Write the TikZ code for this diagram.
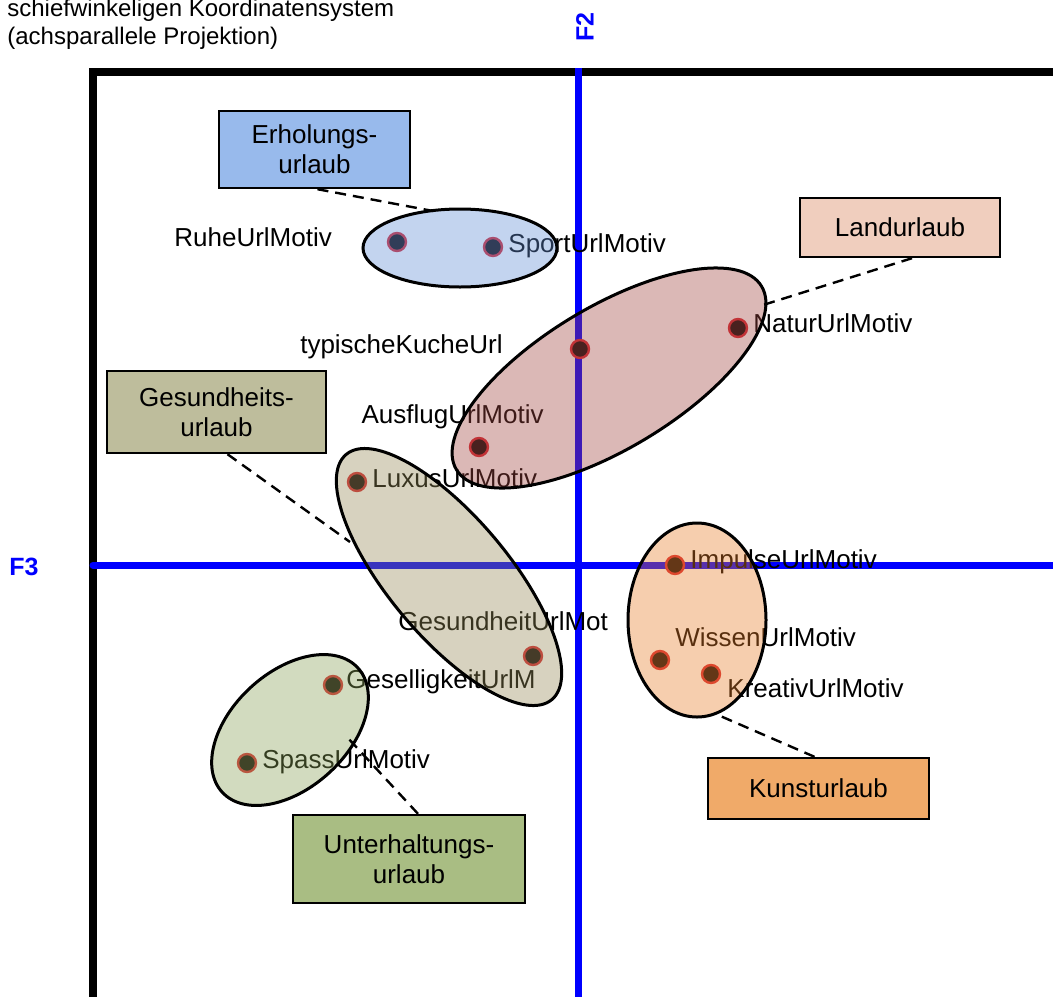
\documentclass[tikz,border=0pt]{standalone}
\usepackage{fontspec}
\setmainfont{Liberation Sans}
\usetikzlibrary{shapes.geometric}
\definecolor{axisblue}{RGB}{0,0,255}
\definecolor{dotcore}{RGB}{20,12,12}
\definecolor{dotrim}{RGB}{215,40,50}
\definecolor{eBlueC}{RGB}{98,141,212}
\definecolor{eRedC}{RGB}{161,69,64}
\definecolor{eKhakiC}{RGB}{149,138,86}
\definecolor{eGreenC}{RGB}{138,161,86}
\definecolor{eOrangeC}{RGB}{232,126,41}
\definecolor{bErhC}{RGB}{152,186,236}
\definecolor{bLandC}{RGB}{240,206,190}
\definecolor{bGesC}{RGB}{190,189,156}
\definecolor{bKunC}{RGB}{240,170,105}
\definecolor{bUntC}{RGB}{169,189,131}
\begin{document}
\begin{tikzpicture}[x=0.5pt,y=-0.5pt,
  lbl/.style={inner sep=0pt, anchor=base west, font=\fontsize{13}{15}\selectfont},
  lblr/.style={lbl, anchor=base east},
  dot/.style={circle, fill=dotcore, draw=dotrim, line width=1.2pt, minimum size=9pt, inner sep=0pt},
  grp/.style={ellipse, draw=black, line width=1.5pt, fill opacity=0.38, inner sep=0pt},
  cat/.style={draw=black, line width=1.2pt, inner sep=0pt, align=center, font=\fontsize{13}{15}\selectfont},
  link/.style={draw=black, line width=1.2pt, dash pattern=on 5.5pt off 3.5pt},
  axislabel/.style={inner sep=0pt, text=axisblue, font=\bfseries\fontsize{12.5}{14}\selectfont}
]
\useasboundingbox (0,0) rectangle (1053,996);
\clip (0,0) rectangle (1053,996);

% frame
\draw[line width=4pt] (93,1010) -- (93,72) -- (1070,72);
% axes
\draw[axisblue, line width=3.5pt] (578,68) -- (578,1010);
\draw[axisblue, line width=3.5pt, line cap=round] (93,565) -- (1070,565);

% points
\node[dot] (dRuhe) at (397,242) {};
\node[dot] (dSport) at (493,247) {};
\node[dot] (dNatur) at (738,328) {};
\node[dot] (dKuche) at (580,349) {};
\node[dot] (dAusflug) at (479,447) {};
\node[dot] (dLuxus) at (357,482) {};
\node[dot] (dGesund) at (533,656) {};
\node[dot] (dImpulse) at (675,565) {};
\node[dot] (dWissen) at (660,660) {};
\node[dot] (dKreativ) at (711,674) {};
\node[dot] (dGesellig) at (333,685) {};
\node[dot] (dSpass) at (247,763) {};

% point labels
\node[lbl] (lRuhe) at (174,246) {RuheUrlMotiv};
\node[lbl] (lSport) at (508,252) {SportUrlMotiv};
\node[lbl] (lNatur) at (753,332) {NaturUrlMotiv};
\node[lblr] (lKuche) at (503,353) {typischeKucheUrl};
\node[lblr] (lAusflug) at (544,423) {AusflugUrlMotiv};
\node[lbl] (lLuxus) at (372,487) {LuxusUrlMotiv};
\node[lbl] (lImpulse) at (690,568) {ImpulseUrlMotiv};
\node[lbl] (lWissen) at (675,646) {WissenUrlMotiv};
\node[lbl] (lKreativ) at (727,697) {KreativUrlMotiv};
\node[lbl] (lGesund) at (398,630) {GesundheitUrlMot};
\node[lbl] (lGesellig) at (346,688) {GeselligkeitUrlM};
\node[lbl] (lSpass) at (262,768) {SpassUrlMotiv};

% groups (ellipses)
\node[grp, fill=eBlueC, minimum width=97pt, minimum height=39pt] (eErh) at (460,248) {};
\node[grp, fill=eRedC, minimum width=178pt, minimum height=71pt, rotate=31] (eLand) at (609,378) {};
\node[grp, fill=eKhakiC, minimum width=160pt, minimum height=60pt, rotate=-50] (eGes) at (449,577) {};
\node[grp, fill=eGreenC, minimum width=92pt, minimum height=58pt, rotate=42.5] (eUnt) at (290,730) {};
\node[grp, fill=eOrangeC, minimum width=69pt, minimum height=97pt] (eKun) at (697,620) {};

% category boxes
\node[cat, fill=bErhC, minimum width=95.5pt, minimum height=38.5pt] (bErh) at (314.5,149.5) {Erholungs-\\urlaub};
\node[cat, fill=bLandC, minimum width=100pt, minimum height=29.5pt] (bLand) at (900,227.5) {Landurlaub};
\node[cat, fill=bGesC, minimum width=109.5pt, minimum height=41pt] (bGes) at (216.5,412) {Gesundheits-\\urlaub};
\node[cat, fill=bKunC, minimum width=110.5pt, minimum height=30.5pt] (bKun) at (818.5,788.5) {Kunsturlaub};
\node[cat, fill=bUntC, minimum width=116pt, minimum height=44pt] (bUnt) at (409,859) {Unterhaltungs-\\urlaub};

% attach points on the ellipses
\coordinate (aErh) at (433,211);
\coordinate (aLand) at (763,305);
\coordinate (aGes) at (350,542);
\coordinate (aKun) at (718,715);
\coordinate (aUnt) at (347,737);

% dashed connectors
\draw[link] ([xshift=1.5pt]bErh.south) -- (aErh);
\draw[link] ([xshift=6pt]bLand.south) -- (aLand);
\draw[link] ([xshift=5.5pt]bGes.south) -- (aGes);
\draw[link] ([xshift=-2pt]bKun.north) -- (aKun);
\draw[link] ([xshift=4.5pt]bUnt.north) -- (aUnt);

% title and axis names
\node[lbl, font=\fontsize{12}{14}\selectfont] (title1) at (7,16) {schiefwinkeligen Koordinatensystem};
\node[lbl, font=\fontsize{12}{14}\selectfont] (title2) at (7,44) {(achsparallele Projektion)};
\node[axislabel, rotate=90] (F2) at (585,27) {F2};
\node[axislabel] (F3) at (24,567) {F3};
\end{tikzpicture}
\end{document}
